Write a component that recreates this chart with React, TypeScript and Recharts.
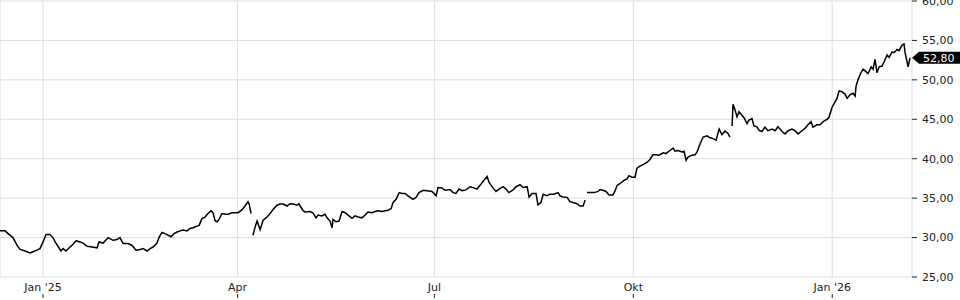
import React from 'react';
import { LineChart, Line, XAxis, YAxis, CartesianGrid, ReferenceDot } from 'recharts';

// days since 1 Jan 2025 (fractional = intraday), null price = break in the series
const days = [
  -19.9, -17.6, -16.2, -13.9, -12.0, -10.6, -8.3, -6.0, -4.6, -2.8, -1.4, 0, 1.4, 3.2, 4.6, 5.6, 6.9, 8.3, 9.3, 10.6,
  12.5, 13.9, 15.3, 17.1, 18.5, 20.4, 22.7, 25.0, 25.9, 27.8, 30.1, 32.4, 34.2, 35.6, 37.0, 39.3, 41.2, 43.0, 44.9, 46.3,
  48.1, 49.5, 50.9, 52.7, 53.7, 55.0, 56.4, 57.8, 59.2, 60.6, 62.0, 63.4, 64.8, 66.6, 68.0, 69.4, 71.2, 72.2, 73.5, 74.9,
  76.3, 77.7, 78.6, 79.6, 80.5, 81.4, 82.8, 84.2, 85.6, 87.4, 88.8, 90.2, 92.0, 93.4, 94.8, 95.3, 96.2, 96.7, 97.1, 98.1,
  99.0, 99.4, 100.4, 101.8, 103.6, 105.0, 106.4, 108.2, 109.6, 111.0, 112.9, 114.2, 115.6, 117.5, 118.4, 118.9, 120.3, 121.2,
  123.5, 124.9, 126.3, 127.2, 129.0, 130.4, 131.4, 132.7, 133.7, 134.1, 135.5, 136.9, 138.3, 139.7, 141.1, 142.9, 144.3,
  145.7, 147.5, 148.9, 150.3, 152.2, 153.6, 154.9, 156.8, 158.2, 159.6, 161.0, 161.9, 163.3, 164.7, 166.0, 167.4, 168.8,
  171.1, 172.5, 173.9, 175.8, 177.6, 179.9, 181.8, 182.7, 184.5, 185.9, 188.2, 189.6, 191.0, 192.4,
  193.8, 195.6, 197.5, 199.3, 200.7, 202.6, 204.0, 205.4, 206.3, 208.1, 209.5, 210.9, 212.8, 214.1, 215.5, 217.4, 218.8,
  220.6, 222.0, 223.9, 224.8, 226.2, 228.0, 228.9, 230.3, 231.3, 233.1, 234.5, 236.3, 238.2, 239.1, 240.5, 242.4, 243.7,
  245.1, 247.0, 248.4, 249.8, 250.7, 251.1, 251.6, 253.0, 254.8, 256.7, 257.6, 259.0, 260.4, 261.8,
  263.6, 264.6, 265.5, 267.3, 268.7, 270.1, 271.0, 272.4, 273.8, 274.7, 276.1, 277.5, 279.4, 280.7, 282.1, 283.5, 284.9,
  286.8, 288.1, 289.5, 291.4, 292.3, 293.7, 295.5, 296.5, 297.4, 298.3, 300.2, 301.6, 302.5, 303.9, 305.3, 307.1, 308.5,
  309.9, 311.3, 312.7, 314.0, 315.4, 316.8, 317.7, 318.2, 318.7, 319.1, 320.1, 321.0, 321.9, 323.3, 324.2, 325.6, 326.5,
  327.9, 328.8, 330.2, 331.2,
  332.5, 333.9, 335.3, 337.2, 338.6, 339.9, 341.8, 343.2, 344.6, 346.4, 347.8, 349.2, 351.0, 352.4, 353.8, 355.2, 356.1,
  358.0, 359.4, 360.8, 362.6, 363.5, 364.9, 365.8, 367.2, 368.2, 369.5, 370.9, 371.9, 373.2, 374.6, 375.6, 376.0, 376.9,
  378.3, 379.3, 380.6, 381.6, 383.0, 383.9, 384.8, 385.7, 386.7, 388.0, 389.0, 390.4, 391.3, 392.7, 393.6, 395.0, 395.9,
  397.3, 398.2, 398.7, 399.6, 400.1, 401.0,
];

const prices = [
  30.85, 30.85, 30.5, 30.0, 29.0, 28.5, 28.3, 28.05, 28.2, 28.4, 28.6, 29.45, 30.4, 30.4, 30.0, 29.45, 28.9, 28.3, 28.6, 28.3,
  28.8, 29.15, 29.6, 29.45, 29.3, 28.9, 28.8, 28.7, 29.45, 29.3, 30.0, 29.65, 29.75, 30.0, 29.25, 29.25, 29.0, 28.4, 28.5, 28.6,
  28.3, 28.6, 28.8, 29.3, 30.05, 30.65, 30.5, 30.3, 30.1, 30.5, 30.7, 30.85, 30.95, 30.85, 31.15, 31.25, 31.45, 31.55, 32.4, 32.6,
  33.05, 33.4, 33.15, 32.1, 32.0, 32.3, 33.05, 32.95, 32.95, 33.15, 33.15, 33.15, 33.5, 34.0, 34.55, 34.3, 33.05, null, 30.3, 31.35,
  32.1, 31.8, 31.0, 32.2, 32.6, 33.05, 33.55, 34.1, 34.25, 34.25, 34.0, 34.3, 34.25, 34.1, 34.3, 34.0, 33.4, 33.25,
  33.3, 33.1, 32.5, 32.85, 32.75, 32.95, 32.5, 32.1, 31.25, 32.3, 32.0, 32.1, 33.3, 33.15, 32.85, 32.45, 32.75,
  32.6, 32.5, 32.85, 33.25, 33.15, 33.3, 33.4, 33.3, 33.4, 33.45, 33.7, 34.45, 34.85, 35.7, 35.6, 35.6, 35.3,
  34.85, 35.1, 35.7, 36.0, 35.95, 35.85, 35.3, 36.35, 36.3, 36.0, 36.1, 35.7, 35.6, 36.15,
  35.95, 36.05, 36.45, 36.3, 36.15, 36.8, 37.3, 37.75, 37.0, 36.3, 35.85, 36.15, 36.45, 36.15, 35.7, 36.05, 36.45,
  36.7, 36.35, 36.45, 35.15, 35.6, 35.6, 34.15, 34.45, 35.5, 35.3, 35.5, 35.5, 35.7, 35.3, 35.15, 35.1, 34.55,
  34.45, 34.3, 34.0, 34.0, 34.75, null, 35.7, 35.7, 35.7, 35.85, 36.1, 36.0, 35.85, 35.4,
  35.4, 35.95, 36.6, 36.95, 37.25, 37.45, 37.85, 37.65, 37.65, 38.8, 39.05, 39.25, 39.55, 39.9, 40.5, 40.5, 40.45,
  40.75, 40.65, 40.95, 41.35, 40.95, 41.05, 40.85, 40.95, 39.8, 40.2, 40.45, 40.5, 40.85, 41.9, 42.75, 42.9, 42.65,
  42.55, 42.35, 43.75, 43.05, 43.5, 43.2, 42.75, null, 44.15, 46.9, 46.15, 45.3, 45.95, 45.5, 45.2, 44.45, 44.9,
  45.1, 44.15, 44.05, 43.6,
  43.45, 44.0, 43.55, 43.75, 43.55, 44.05, 43.45, 43.15, 43.55, 43.75, 43.55, 43.15, 43.55, 43.85, 44.3, 44.7, 44.0,
  44.3, 44.3, 44.7, 45.0, 45.25, 46.5, 46.95, 47.65, 48.6, 48.5, 48.2, 47.65, 48.1, 48.3, 47.95, 49.15, 50.0,
  50.9, 51.35, 51.05, 50.8, 51.65, 51.35, 52.6, 50.9, 51.65, 51.75, 52.3, 53.15, 52.85, 53.55, 53.45, 53.85, 53.7,
  54.4, 54.55, 53.45, 52.3, 51.65, 52.8,
];

const tickDays = [0, 90, 181, 273, 365];
const tickLabels = ["Jan '25", 'Apr', 'Jul', 'Okt', "Jan '26"];
const yTicks = [25, 30, 35, 40, 45, 50, 55, 60];
const lastPrice = 52.8;

const data = days.map((day, i) => ({ day, price: prices[i] }));
const lastDay = days[days.length - 1];

const fmt = (v: number) => v.toFixed(2).replace('.', ',');

function MonthTick({ x, y, payload }: any) {
  const label = tickLabels[tickDays.indexOf(payload.value)];
  return (
    <g>
      <text x={x} y={y + 14} textAnchor="middle" fontSize={11} fill="#222">
        {label}
      </text>
      <line x1={x} x2={x} y1={y + 17} y2={y + 21} stroke="#222" />
    </g>
  );
}

function PriceTag({ cx, cy }: any) {
  const tip = cx + 2;
  const h = 6;
  return (
    <g>
      <path
        d={`M${tip},${cy} L${tip + 7},${cy - h} L960,${cy - h} L960,${cy + h} L${tip + 7},${cy + h} Z`}
        fill="#000"
      />
      <text x={tip + 11} y={cy} dy="0.35em" fontSize={11} fill="#fff">
        {fmt(lastPrice)}
      </text>
    </g>
  );
}

export default function App() {
  return (
    <div
      style={{
        position: 'absolute',
        left: 0,
        top: 0,
        width: 960,
        height: 300,
        background: '#fff',
        fontFamily: '"DejaVu Sans", sans-serif',
      }}
    >
      <LineChart width={960} height={300} data={data} margin={{ top: 1, right: 0, bottom: 0, left: 0 }}>
        <CartesianGrid stroke="#dddddd" />
        <XAxis
          dataKey="day"
          type="number"
          domain={[-19.9, 401.9]}
          ticks={tickDays}
          allowDataOverflow
          height={23}
          axisLine={false}
          tickLine={false}
          tickSize={0}
          tickMargin={0}
          interval={0}
          tick={<MonthTick />}
        />
        <YAxis
          orientation="right"
          domain={[25, 60]}
          ticks={yTicks}
          interval={0}
          width={48}
          axisLine={false}
          tickSize={5}
          tickMargin={5}
          tickLine={{ stroke: '#222' }}
          tick={{ fontSize: 11, fill: '#222' }}
          tickFormatter={fmt}
        />
        <Line
          type="linear"
          dataKey="price"
          stroke="#000"
          strokeWidth={1.5}
          dot={false}
          connectNulls={false}
          isAnimationActive={false}
        />
        <ReferenceDot x={lastDay} y={lastPrice} r={0} shape={<PriceTag />} />
      </LineChart>
    </div>
  );
}
